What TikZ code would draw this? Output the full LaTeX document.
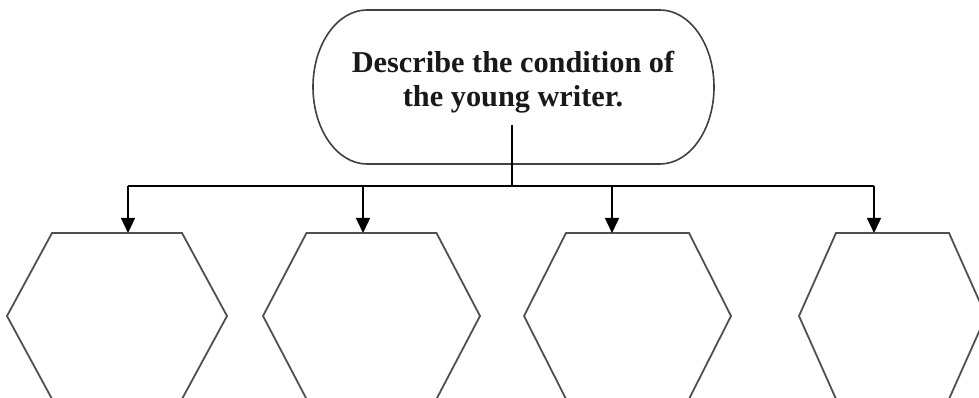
\documentclass[tikz,border=0pt]{standalone}
\usepackage{fontspec}
\setmainfont{Liberation Serif}
\usetikzlibrary{arrows.meta}
\definecolor{hexgray}{HTML}{505050}
\definecolor{boxgray}{HTML}{404040}
\tikzset{
  hexa/.style={draw=hexgray, line width=1.8pt, line join=miter},
  stadium/.style={draw=boxgray, line width=1.6pt},
  link/.style={draw=black, line width=1.4pt},
  tipdown/.style={-{Triangle[length=15pt,width=14pt]}},
  qtext/.style={font=\bfseries\fontsize{30.3}{34}\selectfont, align=center, inner sep=0pt, text=black!90}
}
\begin{document}
\begin{tikzpicture}[x=1pt,y=1pt]
\clip (0,0) rectangle (979,398);
\fill[white] (0,0) rectangle (979,398);
% top stadium box
\draw[stadium] (367,388) -- (660,388)
  arc[start angle=90,end angle=-90,x radius=54,y radius=77]
  -- (367,234)
  arc[start angle=-90,end angle=-270,x radius=54,y radius=77] -- cycle;
\node[qtext] (q) at (513,316) {Describe the condition of\\the young writer.};
% hexagons
\foreach \n/\cx/\hw/\te/\ax in {1/117/110/65/128, 2/371.5/108.5/65/363, 3/627.5/103.5/61.5/612, 4/892.5/93.5/56.5/874}{
  \draw[hexa] (\cx-\hw,82) -- (\cx-\te,165) -- (\cx+\te,165) -- (\cx+\hw,82)
     -- (\cx+\te,-1) -- (\cx-\te,-1) -- cycle;
  \coordinate (h\n) at (\ax,165);
}
% connectors
\coordinate (stem) at (512,273);
\coordinate (j) at (512,212);
\draw[link] (stem) -- (j);
\draw[link] (h1 |- j) -- (h4 |- j);
\foreach \n in {1,2,3,4}{
  \draw[link,tipdown] (h\n |- j) -- (h\n);
}
\end{tikzpicture}
\end{document}
